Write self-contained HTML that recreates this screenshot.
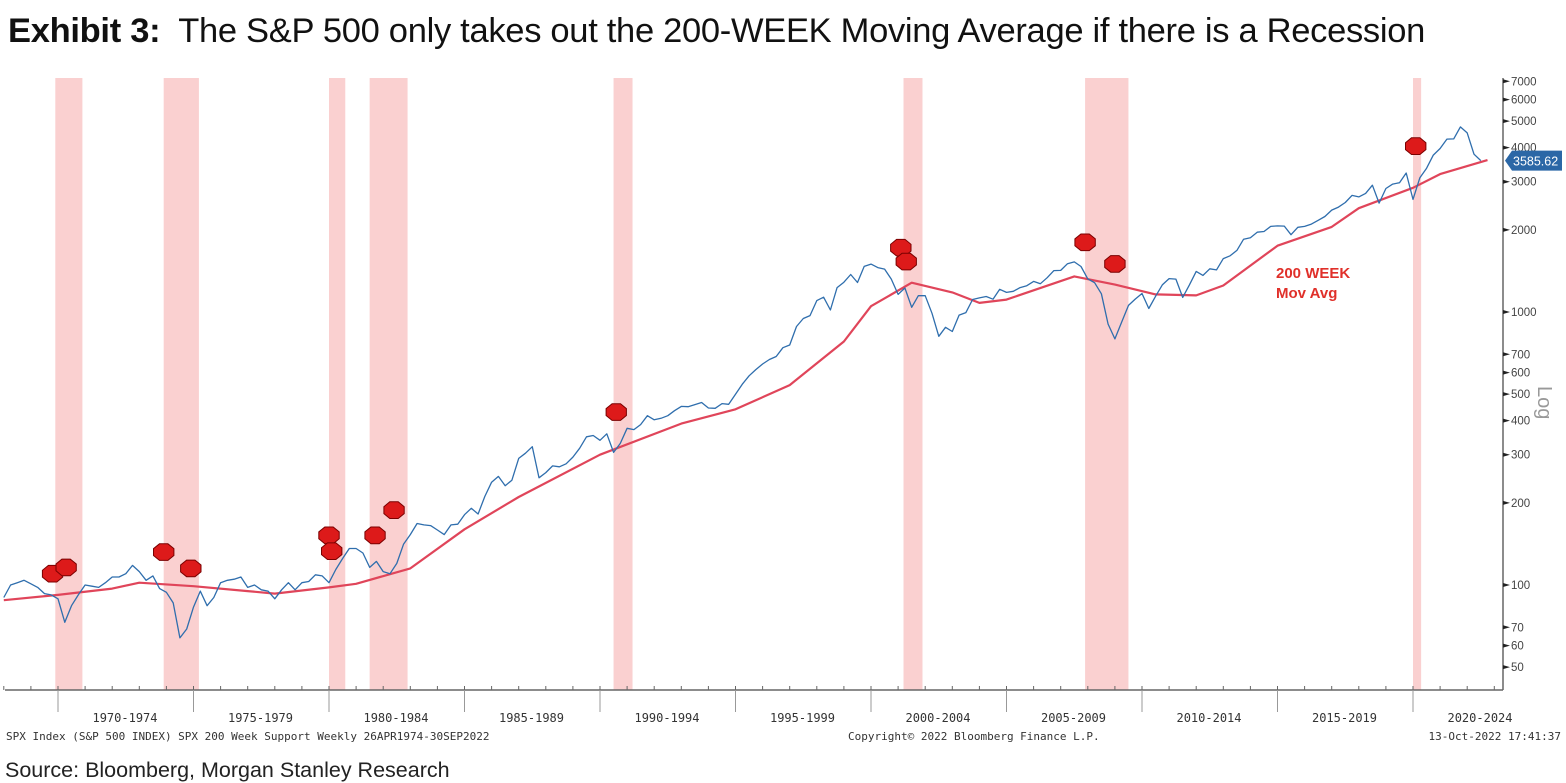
<!DOCTYPE html>
<html><head><meta charset="utf-8"><style>
body{margin:0;background:#fff;width:1566px;height:782px;overflow:hidden;font-family:"Liberation Sans",sans-serif}
#title{position:absolute;left:8px;top:12px;font-size:34.5px;color:#111;white-space:nowrap;letter-spacing:-0.3px}
#source{position:absolute;left:5px;top:758px;font-size:21.5px;color:#222}
svg{position:absolute;left:0;top:0}
</style></head><body>
<div id="title"><b>Exhibit 3:</b>&nbsp; The S&amp;P 500 only takes out the 200-WEEK Moving Average if there is a Recession</div>
<svg id="chart" width="1566" height="782"></svg>
<div id="source">Source: Bloomberg, Morgan Stanley Research</div>
<script>
const startYear = 1968;
const spx = [90,100,102,104, 101,98,93,92, 89,73,84,92, 100,99,98,102, 107,107,110,118, 112,104,108,97, 94,86,64,69, 83,95,84,90, 102,104,105,107, 98,100,96,95, 89,96,102,96, 102,103,109,108, 102,114,125,136, 136,131,116,122, 112,110,120,141, 153,168,166,165, 159,153,166,167, 181,191,182,211, 238,250,231,242, 291,304,321,247, 258,273,271,278, 294,317,349,353, 339,358,306,330, 375,371,387,417, 403,408,417,435, 451,450,458,466, 445,444,462,459, 500,544,584,615, 645,670,687,740, 757,885,947,970, 1101,1133,1017,1229, 1286,1372,1282,1469, 1498,1454,1436,1320, 1160,1224,1040,1148, 1147,989,815,879, 848,974,995,1111, 1126,1140,1114,1211, 1180,1191,1228,1248, 1294,1270,1335,1418, 1420,1503,1526,1468, 1322,1280,1166,903, 797,919,1057,1115, 1169,1030,1141,1257, 1325,1320,1131,1257, 1408,1362,1440,1426, 1569,1606,1681,1848, 1872,1960,1972,2058, 2067,2063,1920,2043, 2059,2098,2168,2238, 2362,2423,2519,2673, 2640,2718,2913,2506, 2834,2941,2976,3230, 2584,3100,3363,3756, 3972,4297,4307,4766, 4530,3785,3585];
const maYears = [1968,1970,1972,1973,1975,1977,1978,1980,1981,1983,1985,1987,1990,1993,1995,1997,1999,2000,2001.5,2003,2004,2005,2007.5,2009,2010.5,2012,2013,2015,2017,2018,2020,2021,2022.75];
const maValues = [88,92,97,102,99,95,93,98,101,115,160,210,300,390,440,540,780,1050,1280,1180,1080,1110,1350,1260,1160,1150,1250,1750,2050,2400,2850,3200,3600];
const recessions = [[1969.9,1970.9],[1973.9,1975.2],[1980.0,1980.6],[1981.5,1982.9],[1990.5,1991.2],[2001.2,2001.9],[2007.9,2009.5],[2020.0,2020.3]];
const markers = [[1969.8,110],[1970.3,116],[1973.9,132],[1974.9,115],[1980.0,152],[1980.1,133],[1981.7,152],[1982.4,188],[1990.6,430],[2001.1,1720],[2001.3,1530],[2007.9,1800],[2009.0,1500],[2020.1,4050]];
const yTicks = [7000,6000,5000,4000,3000,2000,1000,700,600,500,400,300,200,100,70,60,50];
const xGroups = ["1970-1974","1975-1979","1980-1984","1985-1989","1990-1994","1995-1999","2000-2004","2005-2009","2010-2014","2015-2019","2020-2024"];
const lastValue = 3585.62;

const NS="http://www.w3.org/2000/svg";
const svg=document.getElementById('chart');
const X=y=>58+(y-1970)*27.1;
const Y=v=>585-(Math.log10(v)-2)*273;
function mk(t,a,p){const e=document.createElementNS(NS,t);for(const k in a)e.setAttribute(k,a[k]);(p||svg).appendChild(e);return e;}

recessions.forEach(r=>{
 const e=mk('rect',{x:X(r[0]),y:78,width:X(r[1])-X(r[0]),height:612,fill:'#fad0d0'});
 
 
});
const ax=mk('path',{d:'M5 690 H1503 M1503 78 V690',stroke:'#666','stroke-width':1.5,fill:'none'});


for(let y=1968;y<=2024;y++){ if(X(y)<1503) mk('line',{x1:X(y),x2:X(y),y1:686,y2:690,stroke:'#666'}); }
xGroups.forEach((g,i)=>{
 const x0=X(1970+5*i);
 mk('line',{x1:x0,x2:x0,y1:690,y2:712,stroke:'#999'});
 const t=mk('text',{x:x0+67,y:722,'text-anchor':'middle','font-size':12,fill:'#333','font-family':'"DejaVu Sans Mono",monospace'});
 t.textContent=g;
 
 
});
yTicks.forEach(v=>{
 mk('path',{d:`M1503 ${Y(v)-2} L1510 ${Y(v)} L1503 ${Y(v)+2}Z`,fill:'#222'});
 const t=mk('text',{x:1511,y:Y(v)+4,'font-size':11.5,fill:'#444'});
 t.textContent=v;
 
 
});
const lg=mk('text',{x:0,y:0,'font-size':20,fill:'#999',transform:'translate(1538,386) rotate(90)'});
lg.textContent='Log';


const ma=mk('path',{d:maYears.map((y,i)=>(i?'L':'M')+X(y).toFixed(1)+' '+Y(maValues[i]).toFixed(1)).join(''),stroke:'#e0455a','stroke-width':2.2,fill:'none','stroke-linejoin':'round'});


const sp=mk('path',{d:spx.map((v,i)=>(i?'L':'M')+X(startYear+i/4).toFixed(1)+' '+Y(v).toFixed(1)).join(''),stroke:'#2f6ead','stroke-width':1.3,fill:'none','stroke-linejoin':'round'});


markers.forEach(m=>{
 const cx=X(m[0]),cy=Y(m[1]);
 const p=[];for(let k=0;k<8;k++){const a=Math.PI/8+k*Math.PI/4;p.push((cx+11*Math.cos(a)).toFixed(1)+','+(cy+9*Math.sin(a)).toFixed(1));}
 const e=mk('polygon',{points:p.join(' '),fill:'#dd1a1a',stroke:'#7a0000','stroke-width':1});
 
 
});
const a1=mk('text',{x:1276,y:278,'font-size':15,'font-weight':'bold',fill:'#e0302a'});a1.textContent='200 WEEK';


const a2=mk('text',{x:1276,y:298,'font-size':15,'font-weight':'bold',fill:'#e0302a'});a2.textContent='Mov Avg';


const ly=Y(lastValue);
const tag=mk('path',{d:`M1505 ${ly} L1512 ${ly-10} H1562 V${ly+10} H1512Z`,fill:'#2b67a6'});


const tt=mk('text',{x:1513,y:ly+5,'font-size':12.5,fill:'#fff'});tt.textContent=lastValue.toFixed(2);
const f=[['SPX Index (S&P 500 INDEX) SPX 200 Week Support  Weekly 26APR1974-30SEP2022',6,'start'],['Copyright© 2022 Bloomberg Finance L.P.',848,'start'],['13-Oct-2022 17:41:37',1561,'end']];
f.forEach(r=>{const t=mk('text',{x:r[1],y:740,'font-size':11,fill:'#333','text-anchor':r[2],'font-family':'"DejaVu Sans Mono",monospace'});t.textContent=r[0];
 
 });
</script>
</body></html>
